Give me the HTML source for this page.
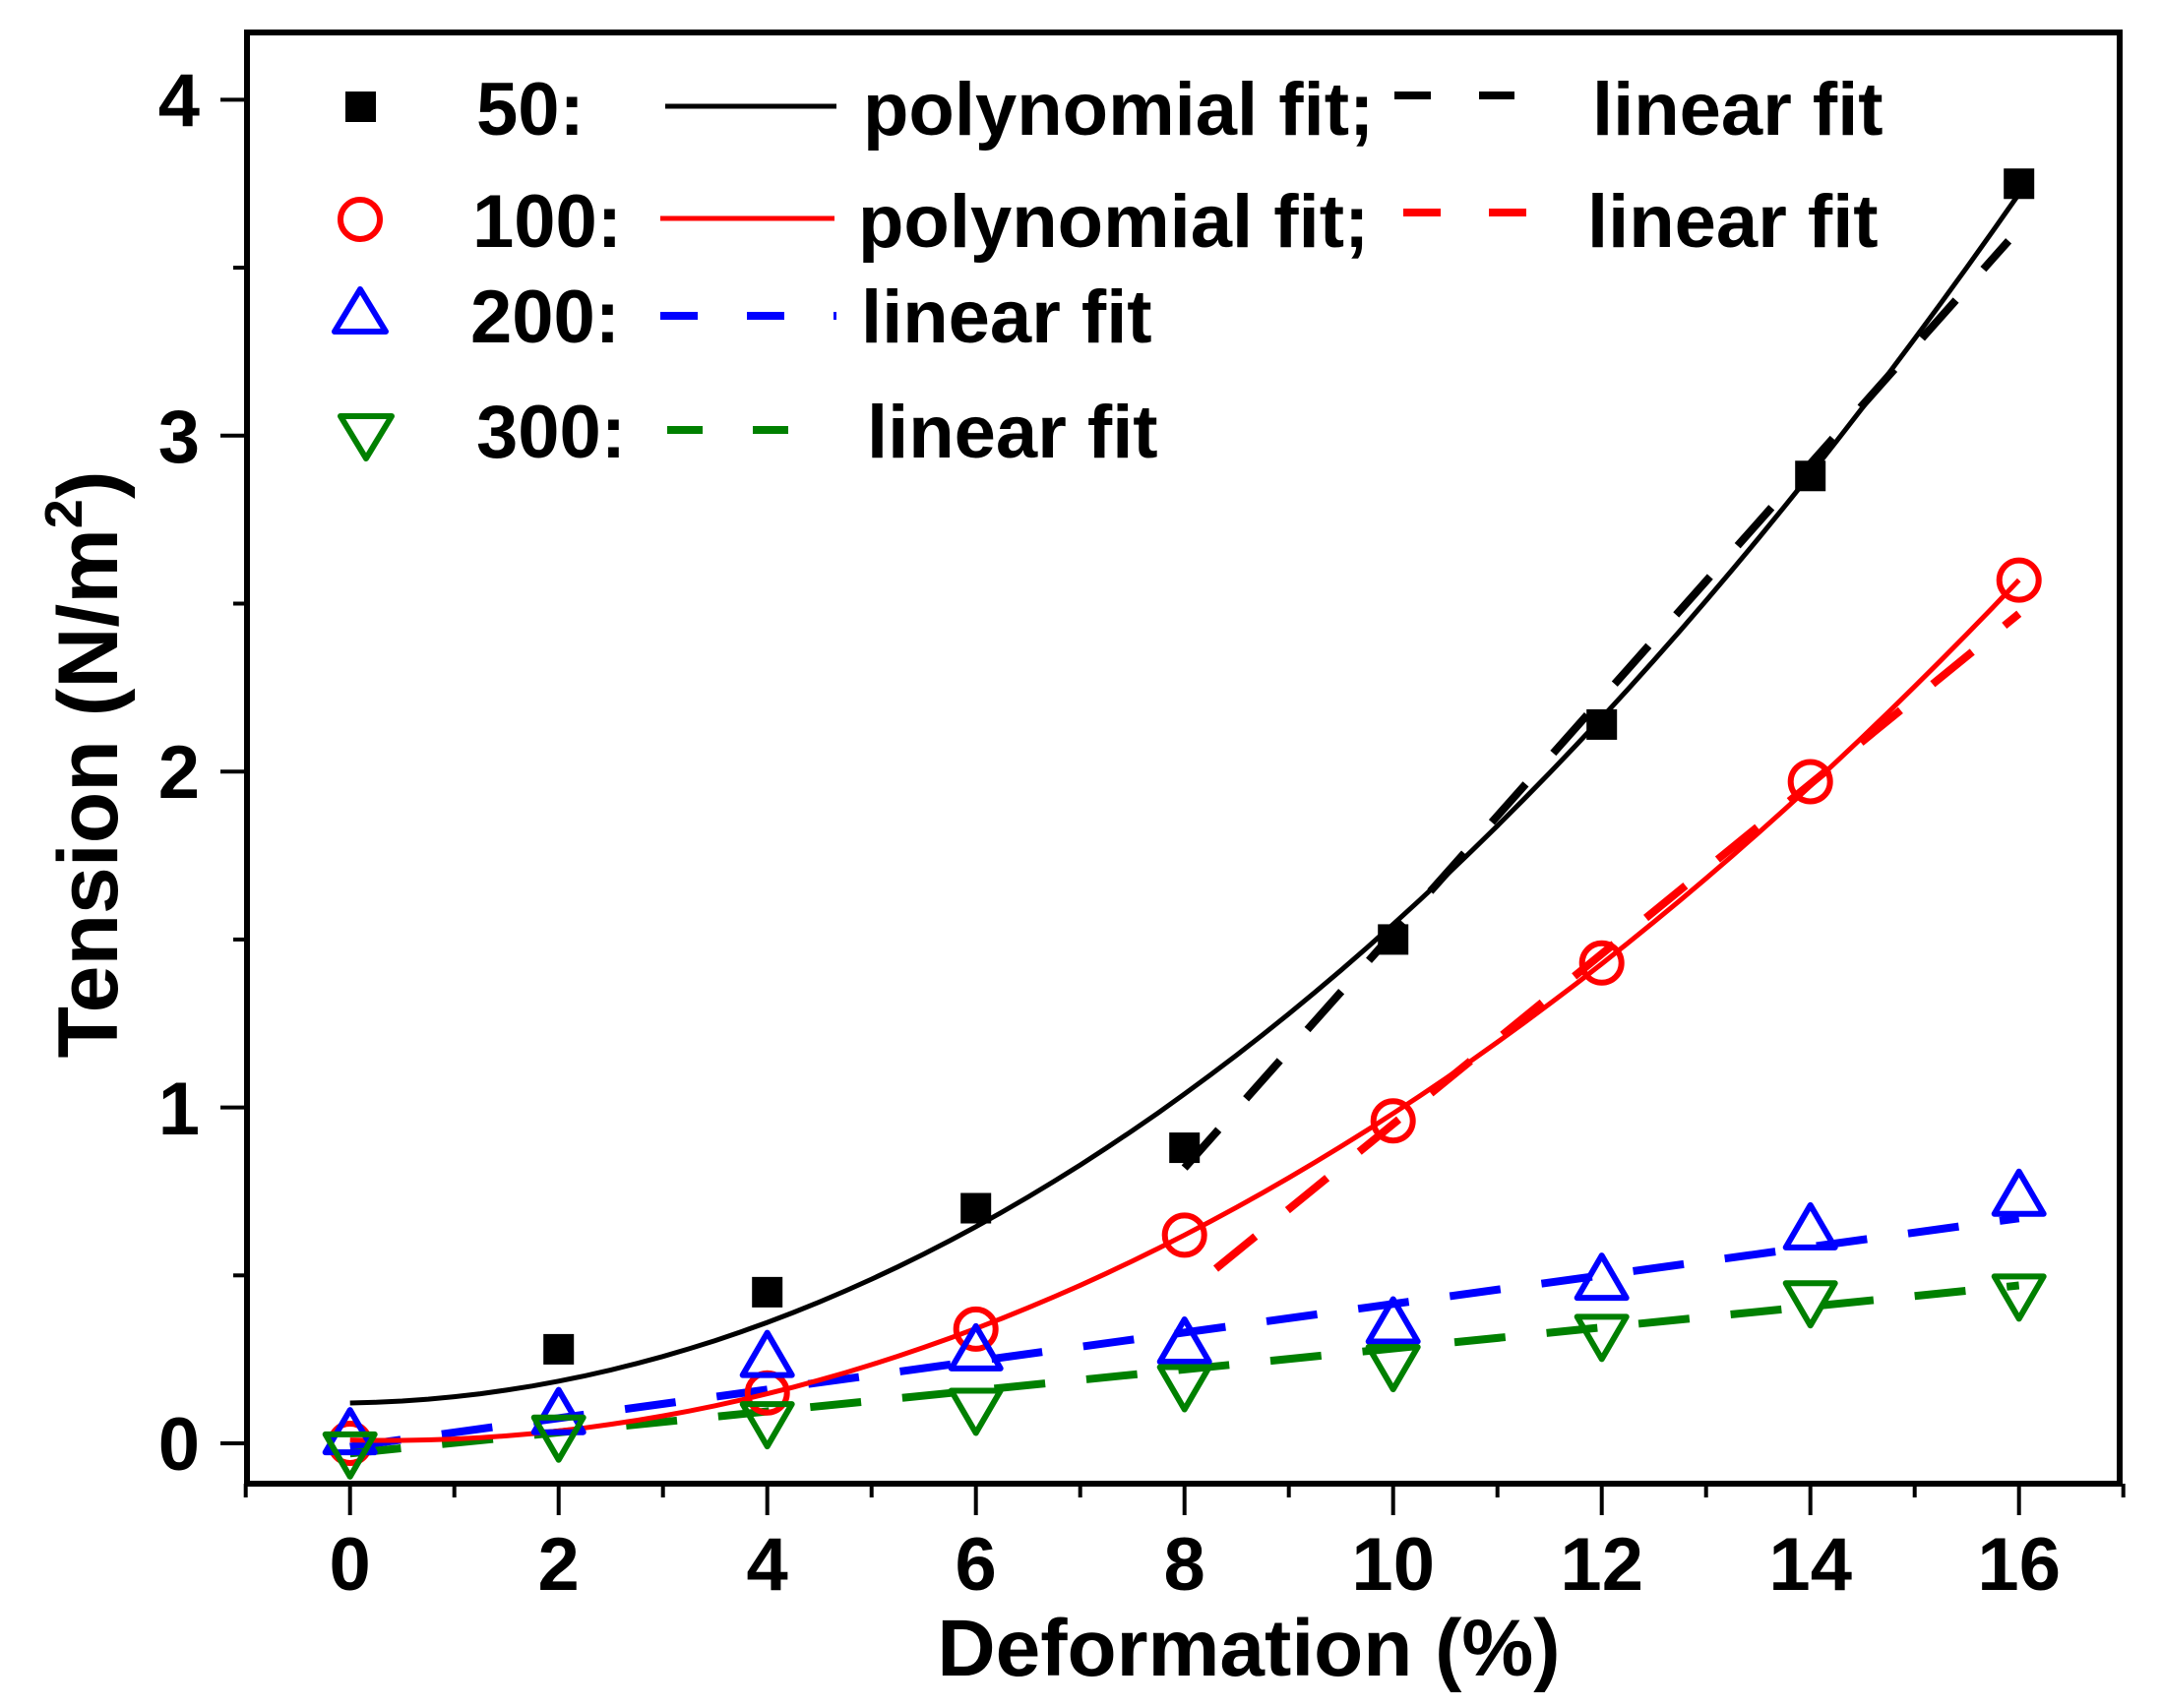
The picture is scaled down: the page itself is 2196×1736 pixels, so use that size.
<!DOCTYPE html>
<html><head><style>html,body{margin:0;padding:0;background:#fff}svg{display:block}</style></head>
<body>
<svg xmlns="http://www.w3.org/2000/svg" width="2196" height="1736" viewBox="0 0 2196 1736" font-family="Liberation Sans, Arial, sans-serif" font-weight="bold">
<rect width="2196" height="1736" fill="#fff"/>
<g id="plot"></g>
<rect x="251" y="33" width="1903" height="1475" fill="none" stroke="#000" stroke-width="6"/>
<g id="ticks" stroke="#000" stroke-width="4"></g>
<g font-size="76" text-anchor="end">
<text x="203" y="1494">0</text><text x="203" y="1153">1</text><text x="203" y="811">2</text><text x="203" y="470">3</text><text x="203" y="128">4</text>
</g>
<g font-size="76" text-anchor="middle" id="xl"></g>
<text x="1269" y="1703" font-size="82" text-anchor="middle">Deformation (%)</text>
<text transform="translate(119,777) rotate(-90)" font-size="86" text-anchor="middle">Tension (N/m<tspan font-size="54" dy="-36">2</tspan><tspan dy="36">)</tspan></text>
<rect x="351" y="93" width="31" height="31" fill="#000"/>
<text x="484" y="137" font-size="76">50:</text>
<line x1="676" y1="108" x2="850" y2="108" stroke="#000" stroke-width="5"/>
<text x="877" y="137" font-size="76">polynomial fit;</text>
<line x1="1417" y1="97" x2="1539" y2="97" stroke="#000" stroke-width="8" stroke-dasharray="37,49"/>
<text x="1618" y="137" font-size="76">linear fit</text>
<circle cx="366" cy="223" r="20" fill="none" stroke="#f00" stroke-width="6"/>
<text x="480" y="251" font-size="76">100:</text>
<line x1="671" y1="222" x2="848" y2="222" stroke="#f00" stroke-width="5"/>
<text x="872" y="251" font-size="76">polynomial fit;</text>
<line x1="1426" y1="216" x2="1551" y2="216" stroke="#f00" stroke-width="8" stroke-dasharray="38,49"/>
<text x="1613" y="251" font-size="76">linear fit</text>
<polygon points="366,294 340,337 392,337" fill="none" stroke="#00f" stroke-width="6" stroke-linejoin="round"/>
<text x="478" y="348" font-size="76">200:</text>
<line x1="671" y1="321" x2="850" y2="321" stroke="#00f" stroke-width="8" stroke-dasharray="38,50"/>
<text x="875" y="348" font-size="76">linear fit</text>
<polygon points="346,423 398,423 372,466" fill="none" stroke="#008000" stroke-width="6" stroke-linejoin="round"/>
<text x="484" y="465" font-size="76">300:</text>
<line x1="678" y1="437" x2="850" y2="437" stroke="#008000" stroke-width="8" stroke-dasharray="36,51"/>
<text x="881" y="465" font-size="76">linear fit</text>
<script>
(function(){
var NS="http://www.w3.org/2000/svg";
function X(x){return 355.7+106*x;} function Y(y){return 1467-341.4*y;}
function el(p,t,a){var e=document.createElementNS(NS,t);for(var k in a)e.setAttribute(k,a[k]);p.appendChild(e);return e;}
var g=document.getElementById('plot'), tk=document.getElementById('ticks'), xl=document.getElementById('xl');
for(var i=-1;i<=17;i++){var maj=(i%2==0);el(tk,'line',{x1:X(i),y1:1508,x2:X(i),y2:maj?1540:1522});
 if(maj&&i>=0){var t=el(xl,'text',{x:X(i),y:1616});t.textContent=i;}}
for(var v=0;v<=4;v+=0.5){var maj=(v%1==0);el(tk,'line',{x1:maj?224:237,y1:Y(v),x2:251,y2:Y(v)});}
function poly(a,b,c,col){var d='';for(var x=0;x<=16.001;x+=0.25){d+=(x?'L':'M')+X(x).toFixed(1)+','+Y(a+b*x+c*x*x).toFixed(1);}
 el(g,'path',{d:d,fill:'none',stroke:col,'stroke-width':5});}
function lin(x0,y0,x1,y1,col){el(g,'line',{x1:X(x0),y1:Y(y0),x2:X(x1),y2:Y(y1),stroke:col,'stroke-width':8,'stroke-dasharray':'52,42'});}
lin(0,-0.01,16,0.67,'#00f');
lin(0,-0.03,16,0.47,'#008000');
poly(0.01,-0.0075,0.01047,'#f00');
poly(0.12,0.005,0.01375,'#000');
lin(8.0,0.82,15.9,3.58,'#000');
lin(8.3,0.52,16,2.47,'#f00');
var xs=[0,2,4,6,8,10,12,14,16];
var bl=[null,0.28,0.45,0.70,0.88,1.50,2.14,2.88,3.75];
var rd=[0.0,null,0.15,0.34,0.62,0.96,1.43,1.97,2.57];
var bu=[0.02,0.08,0.25,0.27,0.29,0.35,0.48,0.63,0.73];
var gr=[-0.02,0.03,0.07,0.11,0.18,0.24,0.33,0.43,0.45];
for(var i=0;i<9;i++){var cx=X(xs[i]);
 if(bl[i]!=null){var cy=Y(bl[i]);el(g,'rect',{x:cx-15.5,y:cy-15.5,width:31,height:31,fill:'#000'});}
 if(rd[i]!=null){var cy=Y(rd[i]);el(g,'circle',{cx:cx,cy:cy,r:20,fill:'none',stroke:'#f00','stroke-width':6});}
 var cy=Y(bu[i]);el(g,'polygon',{points:cx+','+(cy-27)+' '+(cx-25)+','+(cy+16)+' '+(cx+25)+','+(cy+16),fill:'none',stroke:'#00f','stroke-width':6,'stroke-linejoin':'round'});
 cy=Y(gr[i]);el(g,'polygon',{points:(cx-25)+','+(cy-16)+' '+(cx+25)+','+(cy-16)+' '+cx+','+(cy+27),fill:'none',stroke:'#008000','stroke-width':6,'stroke-linejoin':'round'});
}
})();
</script>
</svg>
</body></html>
